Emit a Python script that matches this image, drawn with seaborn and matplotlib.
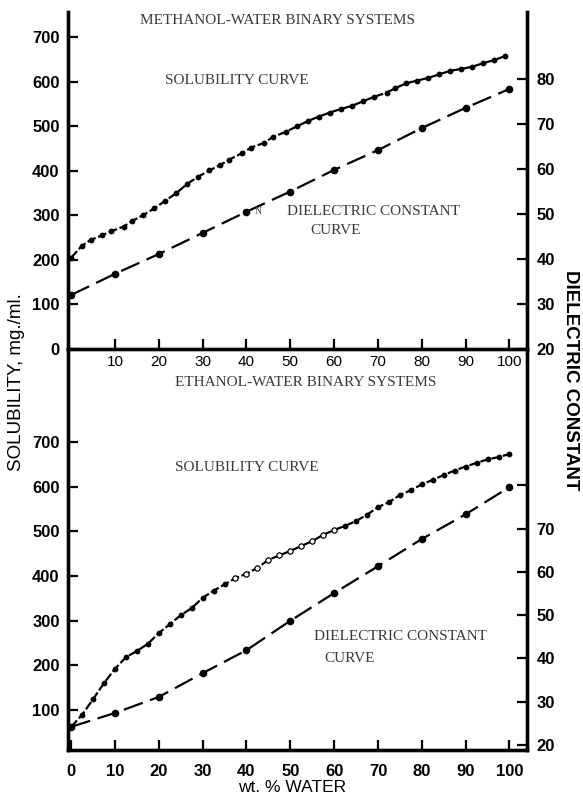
import matplotlib
matplotlib.use("Agg")
import matplotlib.pyplot as plt
import seaborn as sns
import numpy as np
import pandas as pd

# ---------------- data ----------------
# Methanol-water (top panel)
meth_sol_x = [0, 2.5, 4.5, 7, 9, 12, 14, 16.5, 19, 21.5, 24, 26.5, 29, 31.5, 34, 36,
              39, 41, 44, 46, 49, 51.5, 54, 56.5, 59, 61.5, 64, 66.5, 69, 72, 74,
              76.5, 79, 81.5, 84, 86.5, 89, 91.5, 94, 96.5, 99]
meth_sol_y = [205, 232, 245, 255, 264, 275, 288, 301, 316, 333, 350, 371, 387, 401,
              413, 425, 440, 452, 463, 476, 488, 500, 512, 522, 531, 539, 546, 556,
              566, 576, 586, 597, 603, 609, 617, 625, 629, 634, 642, 649, 658]
meth_die_x = [0, 10, 20, 30, 40, 50, 60, 70, 80, 90, 100]
meth_die_y = [32.0, 36.7, 41.1, 45.8, 50.5, 55.0, 59.8, 64.2, 69.1, 73.6, 77.8]

# Ethanol-water (bottom panel)
eth_sol_x = [0, 2.5, 5, 7.5, 10, 12.5, 15, 17.5, 20, 22.5, 25, 27.5, 30, 32.5, 35,
             37.5, 40, 42.5, 45, 47.5, 50, 52.5, 55, 57.5, 60, 62.5, 65, 67.5, 70,
             72.5, 75, 77.5, 80, 82.5, 85, 87.5, 90, 92.5, 95, 97.5, 100]
eth_sol_y = [62, 89, 124, 160, 192, 218, 232, 248, 272, 292, 312, 328, 351, 367, 381,
             395, 405, 418, 436, 446, 456, 467, 478, 492, 503, 512, 523, 537, 554,
             565, 581, 592, 605, 615, 626, 636, 645, 653, 661, 666, 673]
eth_die_x = [0, 10, 20, 30, 40, 50, 60, 70, 80, 90, 100]
eth_die_y = [24.2, 27.4, 31.1, 36.6, 41.9, 48.7, 55.1, 61.3, 67.6, 73.3, 79.6]

x_ticks_top = [10, 20, 30, 40, 50, 60, 70, 80, 90, 100]
x_ticks_bot = [0, 10, 20, 30, 40, 50, 60, 70, 80, 90, 100]
left_ticks_top = [0, 100, 200, 300, 400, 500, 600, 700]
left_ticks_bot = [100, 200, 300, 400, 500, 600, 700]
right_ticks_top = [20, 30, 40, 50, 60, 70, 80]
right_ticks_bot = [20, 30, 40, 50, 60, 70, 80]
right_labels_bot = ["20", "30", "40", "50", "60", "70", ""]

# ---------------- style ----------------
plt.rcParams['font.family'] = ['Liberation Sans Narrow', 'Liberation Sans', 'DejaVu Sans']
W, H = 583, 797
fig = plt.figure(figsize=(W / 100, H / 100), dpi=100)

def fx(px):
    return px / W

def fy(py):
    return 1 - py / H

L, R = 68, 527
ax_top = fig.add_axes([fx(L), fy(349), fx(R) - fx(L), fy(12) - fy(349)])
ax_bot = fig.add_axes([fx(L), fy(750), fx(R) - fx(L), fy(349) - fy(750)])
ax_top_r = ax_top.twinx()
ax_bot_r = ax_bot.twinx()

SPINE_W = 2.4
tick_font = dict(family=['Liberation Sans Narrow', 'Liberation Sans'], weight='bold', size=12)

sol_style = dict(color='black', marker='o', markersize=4.2, markeredgewidth=0,
                 linewidth=1.6, linestyle=(0, (4, 1.2)))
die_style = dict(color='black', marker='o', markersize=5.5, markeredgewidth=0,
                 linewidth=1.6, linestyle=(0, (9, 3.5)))

# top panel
sns.lineplot(x=meth_sol_x, y=meth_sol_y, ax=ax_top, **sol_style)
sns.lineplot(x=meth_die_x, y=meth_die_y, ax=ax_top_r, **die_style)
# bottom panel
sns.lineplot(x=eth_sol_x, y=eth_sol_y, ax=ax_bot, **sol_style)
open_mask = [(37 <= v <= 60) for v in eth_sol_x]
sns.scatterplot(x=[v for v, m in zip(eth_sol_x, open_mask) if m],
                y=[v for v, m in zip(eth_sol_y, open_mask) if m],
                ax=ax_bot, s=14, facecolor='white', edgecolor='black', linewidth=0.8, zorder=5)
sns.lineplot(x=eth_die_x, y=eth_die_y, ax=ax_bot_r, **die_style)

XL = (-0.7, 104)
for a in (ax_top, ax_bot, ax_top_r, ax_bot_r):
    a.set_xlim(*XL)
    a.set_xlabel('')
    a.set_ylabel('')
    a.patch.set_visible(False)

ax_top.set_ylim(0, 757)
ax_top_r.set_ylim(20, 94.9)
ax_bot.set_ylim(10.5, 908)
ax_bot_r.set_ylim(18.85, 111.5)

# spines
for a in (ax_top, ax_top_r, ax_bot, ax_bot_r):
    a.spines['top'].set_visible(False)
    for s in ('left', 'right', 'bottom'):
        a.spines[s].set_linewidth(SPINE_W)

# ticks
ax_top.set_xticks(x_ticks_top)
ax_top.set_xticklabels([str(t) for t in x_ticks_top], family=['Liberation Sans', 'DejaVu Sans'],
                       size=11, weight='normal')
ax_top.tick_params(axis='x', direction='in', length=7, width=1.6, pad=4)
ax_top.set_yticks(left_ticks_top)
ax_top.set_yticklabels([str(t) for t in left_ticks_top], **tick_font)
ax_top.tick_params(axis='y', direction='in', length=7, width=1.6, pad=6)
ax_top_r.set_yticks(right_ticks_top)
ax_top_r.set_yticklabels([str(t) for t in right_ticks_top], **tick_font)
ax_top_r.tick_params(axis='y', direction='in', length=7, width=1.6, pad=7)

ax_bot.set_xticks(x_ticks_bot)
ax_bot.set_xticklabels([str(t) for t in x_ticks_bot], **tick_font)
ax_bot.tick_params(axis='x', direction='in', length=7, width=1.6, pad=10)
ax_bot.set_yticks(left_ticks_bot)
ax_bot.set_yticklabels([str(t) for t in left_ticks_bot], **tick_font)
ax_bot.tick_params(axis='y', direction='in', length=7, width=1.6, pad=6)
ax_bot_r.set_yticks(right_ticks_bot)
ax_bot_r.set_yticklabels(right_labels_bot, **tick_font)
ax_bot_r.tick_params(axis='y', direction='in', length=7, width=1.6, pad=7)
ax_bot_r.tick_params(axis='x', length=0)
ax_top_r.tick_params(axis='x', length=0)

# axis titles
fig.text(fx(17), fy(382), 'SOLUBILITY, mg./ml.', rotation=90, ha='center', va='center',
         family=['Liberation Sans', 'DejaVu Sans'], size=13.5)
fig.text(fx(571), fy(380), 'DIELECTRIC CONSTANT', rotation=-90, ha='center', va='center',
         family=['Liberation Sans', 'DejaVu Sans'], weight='bold', size=13.5)
fig.text(fx(292), fy(787), 'wt. % WATER', ha='center', va='center',
         family=['Liberation Sans', 'DejaVu Sans'], size=12.5)

# annotations (serif, typewritten look)
ann = dict(family=['Liberation Serif', 'DejaVu Serif'], color='#3a3a3a', size=11,
           ha='center', va='center')
fig.text(fx(278), fy(20), 'METHANOL-WATER BINARY SYSTEMS', **ann)
fig.text(fx(237), fy(80), 'SOLUBILITY CURVE', **ann)
fig.text(fx(373), fy(212), 'DIELECTRIC CONSTANT', **ann)
fig.text(fx(336), fy(231), 'CURVE', **ann)
fig.text(fx(258), fy(212), 'N', **dict(ann, size=7))
fig.text(fx(306), fy(383), 'ETHANOL-WATER BINARY SYSTEMS', **ann)
fig.text(fx(247), fy(468), 'SOLUBILITY CURVE', **ann)
fig.text(fx(400), fy(636), 'DIELECTRIC CONSTANT', **ann)
fig.text(fx(350), fy(659), 'CURVE', **ann)

fig.savefig('out.png', dpi=100)
